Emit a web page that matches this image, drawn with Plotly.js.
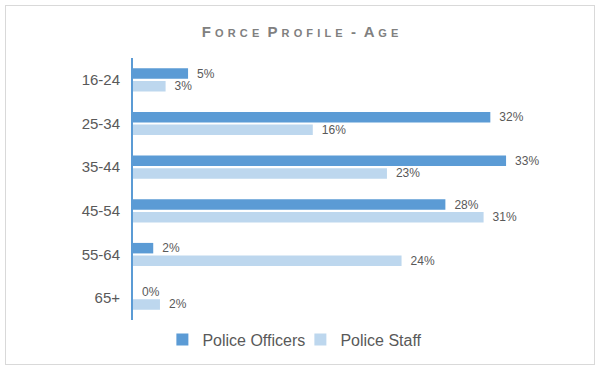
<!DOCTYPE html>
<html><head><meta charset="utf-8">
<script src="https://cdn.plot.ly/plotly-3.0.1.min.js"></script>
<style>
html,body{margin:0;padding:0;background:#fff;}
#wrap{position:relative;width:600px;height:369px;}
#chart{width:600px;height:369px;}
#frame{position:absolute;left:5px;top:5px;width:590px;height:360px;border:1px solid #d9d9d9;pointer-events:none;box-sizing:border-box;}
</style></head>
<body>
<div id="wrap"><div id="chart"></div><div id="frame"></div></div>
<script>
const ageGroups = ["16-24","25-34","35-44","45-54","55-64","65+"];
const officers = [4.9, 31.8, 33.2, 27.8, 1.8, 0.0];
const staff = [2.9, 16.0, 22.6, 31.2, 23.9, 2.4];
const officerLabels = ["5%","32%","33%","28%","2%","0%"];
const staffLabels = ["3%","16%","23%","31%","24%","2%"];

const labelFont = {family:"Liberation Sans, Arial, sans-serif", size:12, color:"#595959"};
const data = [
  {type:"bar", orientation:"h", name:"Police Officers", y:ageGroups, x:officers,
   text:officerLabels, texttemplate:"\u2002%{text}", textposition:"outside", textfont:labelFont, cliponaxis:false,
   marker:{color:"#5B9BD5"}, hoverinfo:"skip", constraintext:"none"},
  {type:"bar", orientation:"h", name:"Police Staff", y:ageGroups, x:staff,
   text:staffLabels, texttemplate:"\u2002%{text}", textposition:"outside", textfont:labelFont, cliponaxis:false,
   marker:{color:"#BDD7EE"}, hoverinfo:"skip", constraintext:"none"}
];
const layout = {
  width:600, height:369,
  margin:{l:133, r:40, t:58, b:47},
  paper_bgcolor:"#fff", plot_bgcolor:"#fff",
  font:{family:"Liberation Sans, Arial, sans-serif", color:"#595959"},
  title:{text:"F o r c e  P r o f i l e  -  A g e", x:0.5, xanchor:"center", y:0.915, yanchor:"middle",
         font:{family:"Liberation Sans, Arial, sans-serif", size:15, color:"#808080", weight:"bold", variant:"small-caps"}},
  barmode:"group", bargap:0.42, bargroupgap:0.17,
  xaxis:{range:[0,38], visible:false, showgrid:false, zeroline:false, fixedrange:true},
  yaxis:{autorange:"reversed", showline:true, linecolor:"#5B9BD5", linewidth:2, showgrid:false,
         ticks:"", ticklabelstandoff:8, tickfont:{size:15, color:"#595959"}, fixedrange:true},
  showlegend:true,
  legend:{orientation:"h", x:0.392, xanchor:"center", y:-0.01, yanchor:"top",
          font:{size:16, color:"#595959"}, traceorder:"normal", itemwidth:30,
          entrywidth:93, entrywidthmode:"pixels"}
};
Plotly.newPlot("chart", data, layout, {displayModeBar:false, staticPlot:true});
</script>
</body></html>
